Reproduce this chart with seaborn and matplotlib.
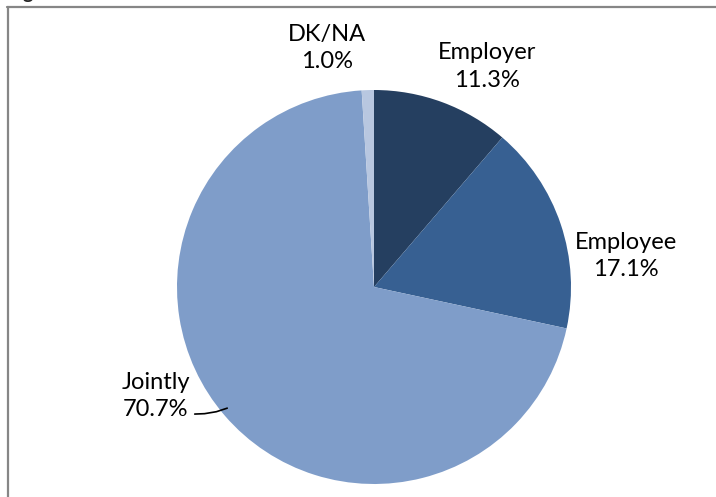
import matplotlib
matplotlib.use("Agg")
import matplotlib.pyplot as plt
import seaborn as sns
from matplotlib.lines import Line2D

sns.set_theme(style="white")
plt.rcParams['font.family'] = ['Lato', 'DejaVu Sans']

# data (clockwise from 12 o'clock)
categories = ["Employer", "Employee", "Jointly", "DK/NA"]
shares = [11.3, 17.1, 70.7, 1.0]
colors = ["#253f60", "#376092", "#7f9dc9", "#b8c7e0"]

# label placement (data units, pie radius = 1)
label_pos = [(0.574, 1.12), (1.279, 0.157), (-1.107, -0.553), (-0.238, 1.213)]

W, H = 716, 497
R = 197.0
cx, cy = 374.0, 287.0

fig = plt.figure(figsize=(W / 100, H / 100), dpi=100)
ax = fig.add_axes([0, 0, 1, 1])
ax.pie(shares, colors=colors, startangle=90, counterclock=False,
       radius=1, center=(0, 0), wedgeprops=dict(linewidth=0))
ax.set_aspect('auto')
ax.set_xlim(-cx / R, (W - cx) / R)
ax.set_ylim(-(H - cy) / R, cy / R)
ax.axis('off')

for name, val, (x, y) in zip(categories, shares, label_pos):
    ax.text(x, y, f"{name}\n{val:.1f}%", ha='center', va='center',
            fontsize=17, color='black', linespacing=1.38)

# leader line for Jointly
ax.plot([-0.91, -0.86, -0.80, -0.745], [-0.645, -0.643, -0.633, -0.615],
        color='black', lw=1.2)

# chart area border (top and left visible)
fig.add_artist(Line2D([7 / W, 1], [1 - 7 / H, 1 - 7 / H], transform=fig.transFigure,
                      color='#868686', lw=1.6))
fig.add_artist(Line2D([8 / W, 8 / W], [0, 1 - 7 / H], transform=fig.transFigure,
                      color='#868686', lw=1.6))

# cut-off title fragment
fig.text(28 / W, 1 + 1 / H, "g", fontsize=14, fontweight='bold',
         ha='center', va='baseline')

fig.savefig("out.png", dpi=100)
